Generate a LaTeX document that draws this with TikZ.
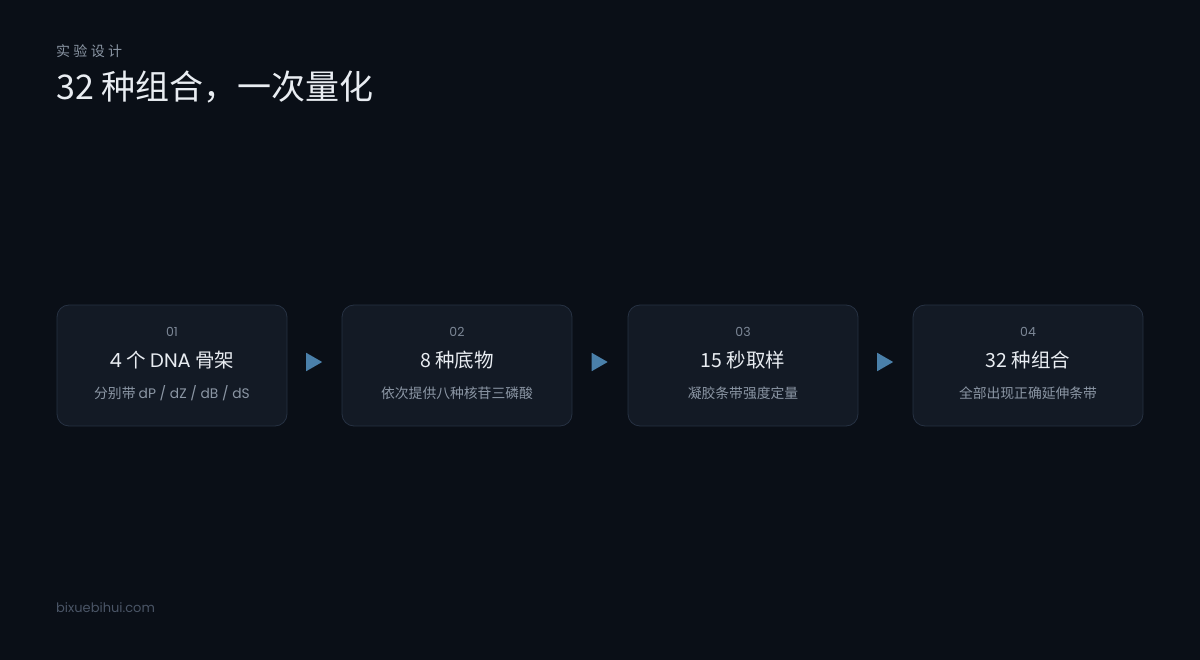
\documentclass[tikz,border=0pt]{standalone}
\usepackage{fontspec}
\setmainfont{Noto Sans CJK SC}
\newfontfamily\lat{Poppins}
\usetikzlibrary{shapes.geometric,calc}
\definecolor{bg}{HTML}{0A0F17}
\definecolor{cardfill}{HTML}{131A25}
\definecolor{cardline}{HTML}{263142}
\definecolor{numc}{HTML}{7D8897}
\definecolor{titc}{HTML}{E9EDF2}
\definecolor{subc}{HTML}{8B96A4}
\definecolor{arrc}{HTML}{4A80AA}
\definecolor{footc}{HTML}{4A5566}
\tikzset{
  x=1pt,y=-1pt,
  card/.style={draw=cardline,fill=cardfill,line width=0.8pt,rounded corners=12pt,minimum width=230pt,minimum height=121pt,inner sep=0pt},
  numtxt/.style={text=numc,font=\lat\fontsize{12.5}{12.5}\selectfont,anchor=center,inner sep=0pt},
  tittxt/.style={text=titc,font=\fontsize{19.5}{19.5}\selectfont,anchor=center,inner sep=0pt},
  subtxt/.style={text=subc,font=\fontsize{13.8}{13.8}\selectfont,anchor=center,inner sep=0pt},
  tri/.style={fill=arrc,draw=none,isosceles triangle,isosceles triangle apex angle=60,minimum height=16pt,inner sep=0pt,anchor=center,xshift=-3pt,yshift=3.5pt}
}
\begin{document}
\begin{tikzpicture}
\fill[bg] (0,0) rectangle (1200,660);
\useasboundingbox (0,0) rectangle (1200,660);
\node[anchor=west,inner sep=0pt,text=subc,font=\fontsize{14}{14}\selectfont] (kicker) at (56,51.5) {实\hspace{3.3pt}验\hspace{3.3pt}设\hspace{3.3pt}计};
\node[anchor=west,inner sep=0pt,text=titc,font=\fontsize{34}{34}\selectfont] (title) at (56,87) {32 种组合，一次量化};
% cards
\node[card] (c1) at (172,365.5) {};
\node[card] (c2) at (457,365.5) {};
\node[card] (c3) at (743,365.5) {};
\node[card] (c4) at (1028,365.5) {};
\node[numtxt] (n1) at (172,332) {01};
\node[numtxt] (n2) at (457,332) {02};
\node[numtxt] (n3) at (743,332) {03};
\node[numtxt] (n4) at (1028,332) {04};
\node[tittxt] (t1) at (172,360) {{\lat 4} 个 {\lat DNA} 骨架};
\node[tittxt] (t2) at (457,360) {8 种底物};
\node[tittxt] (t3) at (743,360) {15 秒取样};
\node[tittxt] (t4) at (1028,360) {32 种组合};
\node[subtxt] (s1) at (172,393) {分别带 {\lat dP / dZ / dB / dS}};
\node[subtxt] (s2) at (457,393) {依次提供八种核苷三磷酸};
\node[subtxt] (s3) at (743,393) {凝胶条带强度定量};
\node[subtxt] (s4) at (1028,393) {全部出现正确延伸条带};
% arrows
\node[tri] (a1) at ($(c1.east)!0.5!(c2.west)$) {};
\node[tri] (a2) at ($(c2.east)!0.5!(c3.west)$) {};
\node[tri] (a3) at ($(c3.east)!0.5!(c4.west)$) {};
\node[anchor=west,inner sep=0pt,text=footc,font=\lat\fontsize{13}{13}\selectfont] (foot) at (56,608) {bixuebihui.com};
\end{tikzpicture}
\end{document}
